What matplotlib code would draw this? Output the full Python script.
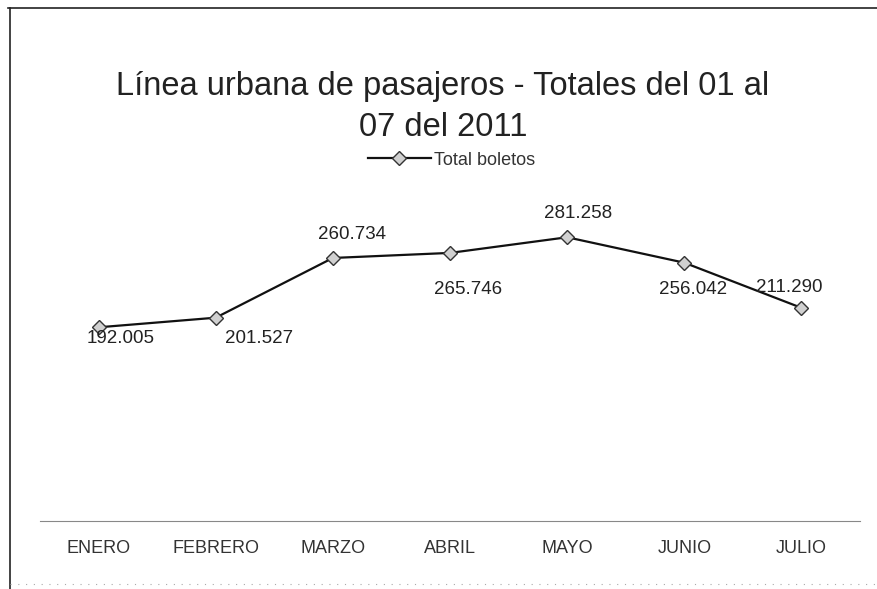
import matplotlib
matplotlib.use("Agg")
import matplotlib.pyplot as plt
from matplotlib.lines import Line2D

plt.rcParams["font.family"] = ["Liberation Sans", "DejaVu Sans"]

# pasajeros por mes, enero-julio 2011
meses = ["ENERO", "FEBRERO", "MARZO", "ABRIL", "MAYO", "JUNIO", "JULIO"]
totales = [192005, 201527, 260734, 265746, 281258, 256042, 211290]
etiquetas = ["192.005", "201.527", "260.734", "265.746", "281.258", "256.042", "211.290"]

# label offsets (points) relative to each marker
offsets = [(16, -8), (31, -15), (14, 17), (13, -26), (8, 17), (6, -19), (-9, 15)]

fig = plt.figure(figsize=(8.77, 5.89), dpi=100)
ax = fig.add_axes([40 / 877, 68 / 589, 820 / 877, 343 / 589])

x = list(range(len(meses)))
ax.plot(x, totales, color="#111111", lw=1.6, marker="D", ms=7,
        mfc="#d0d0d0", mec="#333333", mew=1.0, label="Total boletos")

for xi, yi, txt, off in zip(x, totales, etiquetas, offsets):
    ax.annotate(txt, (xi, yi), xytext=off, textcoords="offset points",
                ha="center", va="center", fontsize=13.5, color="#222222")

ax.set_xlim(-0.5, len(meses) - 0.5)
ax.set_ylim(0, 340000)
ax.set_xticks(x)
ax.set_xticklabels(meses, fontsize=13, color="#333333")
ax.tick_params(axis="x", length=0, pad=14)
ax.set_yticks([])
for side in ["top", "right", "left"]:
    ax.spines[side].set_visible(False)
ax.spines["bottom"].set_linestyle((0, (2, 1)))
ax.spines["bottom"].set_color("#888888")
ax.spines["bottom"].set_linewidth(0.8)

fig.suptitle("Línea urbana de pasajeros - Totales del 01 al\n07 del 2011",
             x=0.505, y=0.88, fontsize=23.5, color="#222222", linespacing=1.45)

fig.legend(loc="center", bbox_to_anchor=(0.515, 0.728), frameon=False,
           fontsize=13, handlelength=3.5, handletextpad=0.2,
           labelcolor="#333333")

# outer frame of the chart area
fig.add_artist(Line2D([10 / 877, 10 / 877], [0, 581 / 589], color="#222222", lw=1.2))
fig.add_artist(Line2D([8 / 877, 1], [581 / 589, 581 / 589], color="#222222", lw=1.2))
fig.add_artist(Line2D([10 / 877, 1], [5 / 589, 5 / 589], color="#aaaaaa", lw=0.8,
                      linestyle=(0, (1, 6))))

fig.savefig("out.png", dpi=100, facecolor="white")
